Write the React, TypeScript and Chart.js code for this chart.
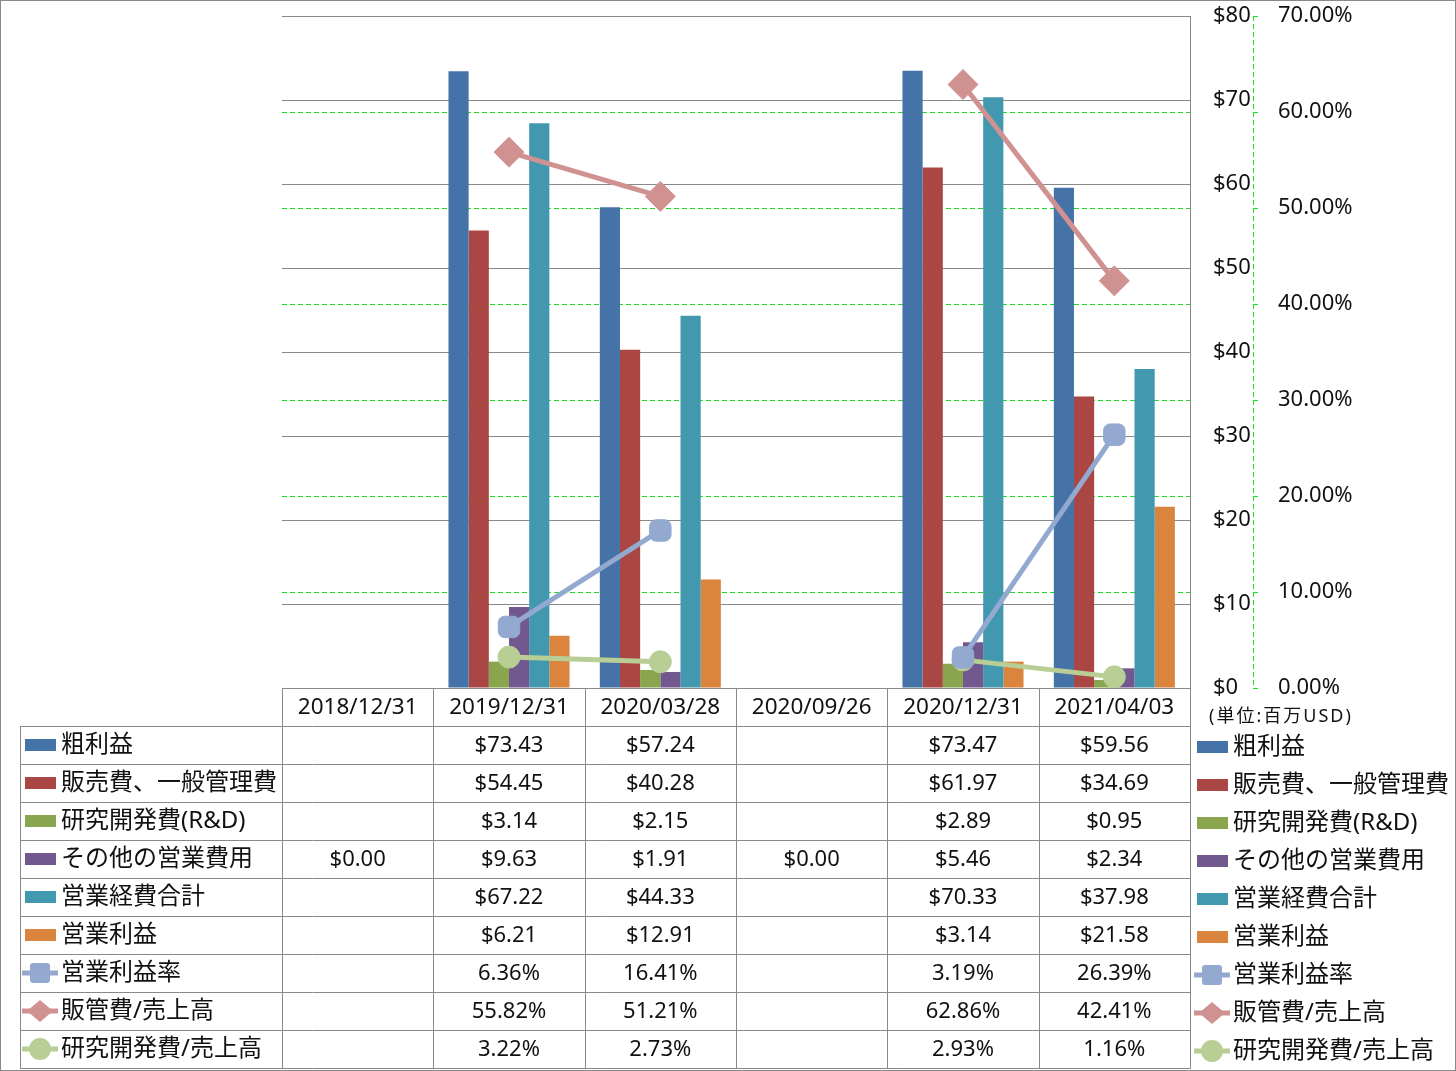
import React, { useEffect, useRef } from 'react';
import { Chart, registerables } from 'chart.js';

Chart.register(...registerables);

const categories = ['2018/12/31', '2019/12/31', '2020/03/28', '2020/09/26', '2020/12/31', '2021/04/03'];
const grossProfit = [null, 73.43, 57.24, null, 73.47, 59.56];
const sgaExpense = [null, 54.45, 40.28, null, 61.97, 34.69];
const rndExpense = [null, 3.14, 2.15, null, 2.89, 0.95];
const otherOpex = [0, 9.63, 1.91, 0, 5.46, 2.34];
const totalOpex = [null, 67.22, 44.33, null, 70.33, 37.98];
const operatingIncome = [null, 6.21, 12.91, null, 3.14, 21.58];
const operatingMargin = [null, 6.36, 16.41, null, 3.19, 26.39];
const sgaRatio = [null, 55.82, 51.21, null, 62.86, 42.41];
const rndRatio = [null, 3.22, 2.73, null, 2.93, 1.16];

const barLabels = ['粗利益', '販売費、一般管理費', '研究開発費(R&D)', 'その他の営業費用', '営業経費合計', '営業利益'];
const barColors = ['#4572A7', '#AA4643', '#89A54E', '#71588F', '#4198AF', '#DB843D'];
const lineLabels = ['営業利益率', '販管費/売上高', '研究開発費/売上高'];
const lineColors = ['#93A9D0', '#D09291', '#B9CE94'];
const lineStyles = ['rectRounded', 'rectRot', 'circle'];
const unitLabel = '(単位:百万USD)';

const FONT = '"Noto Sans", "Noto Sans CJK JP", sans-serif';
const GRID = '#898989';
const TEXT = '#111111';
const PCT_GRID = '#22DD22';

function drawMarker(ctx: CanvasRenderingContext2D, style: string, x: number, y: number, color: string) {
  ctx.save();
  ctx.fillStyle = color;
  ctx.beginPath();
  if (style === 'rectRounded') {
    const s = 10, r = 3;
    ctx.moveTo(x - s + r, y - s);
    ctx.arcTo(x + s, y - s, x + s, y + s, r);
    ctx.arcTo(x + s, y + s, x - s, y + s, r);
    ctx.arcTo(x - s, y + s, x - s, y - s, r);
    ctx.arcTo(x - s, y - s, x + s, y - s, r);
  } else if (style === 'rectRot') {
    ctx.moveTo(x - 13, y);
    ctx.lineTo(x, y - 11);
    ctx.lineTo(x + 13, y);
    ctx.lineTo(x, y + 11);
  } else {
    ctx.arc(x, y, 11, 0, Math.PI * 2);
  }
  ctx.closePath();
  ctx.fill();
  ctx.restore();
}

function drawLegendEntry(ctx: CanvasRenderingContext2D, idx: number, x0: number, y: number, textX: number) {
  if (idx < barLabels.length) {
    ctx.fillStyle = barColors[idx];
    ctx.fillRect(x0 + 3, y - 6, 31, 12);
    ctx.fillStyle = TEXT;
    ctx.fillText(barLabels[idx], textX, y);
  } else {
    const li = idx - barLabels.length;
    ctx.save();
    ctx.strokeStyle = lineColors[li];
    ctx.lineWidth = 5;
    ctx.beginPath();
    ctx.moveTo(x0, y);
    ctx.lineTo(x0 + 36, y);
    ctx.stroke();
    ctx.restore();
    drawMarker(ctx, lineStyles[li], x0 + 18, y, lineColors[li]);
    ctx.fillStyle = TEXT;
    ctx.fillText(lineLabels[li], textX, y);
  }
}

const tablePlugin = {
  id: 'dataTable',
  afterDraw(chart: any) {
    const ctx: CanvasRenderingContext2D = chart.ctx;
    const ca = chart.chartArea;
    const xs = chart.scales.x;
    const y1 = chart.scales.y1;
    const n = categories.length;
    const colW = (ca.right - ca.left) / n;
    const headerH = 38;
    const rowH = 38;
    const datasets = chart.data.datasets;
    const rows = datasets.length;
    const top = ca.bottom;
    const bodyTop = top + headerH;
    const bottom = bodyTop + rows * rowH;
    const leftX = 20;

    ctx.save();
    // dashed percent axis line
    ctx.strokeStyle = PCT_GRID;
    ctx.lineWidth = 1;
    ctx.setLineDash([5, 3]);
    ctx.beginPath();
    const ax = Math.round(y1.left) + 0.5;
    ctx.moveTo(ax, y1.top);
    ctx.lineTo(ax, y1.bottom);
    ctx.stroke();
    ctx.setLineDash([]);

    // table lines
    ctx.strokeStyle = GRID;
    ctx.lineWidth = 1;
    ctx.beginPath();
    for (let r = 0; r <= rows; r++) {
      const yy = Math.round(bodyTop + r * rowH) + 0.5;
      ctx.moveTo(leftX, yy);
      ctx.lineTo(ca.right + 0.5, yy);
    }
    ctx.moveTo(leftX + 0.5, bodyTop);
    ctx.lineTo(leftX + 0.5, bottom + 0.5);
    for (let j = 0; j <= n; j++) {
      const xx = Math.round(ca.left + j * colW) + 0.5;
      ctx.moveTo(xx, top);
      ctx.lineTo(xx, bottom + 0.5);
    }
    ctx.stroke();

    // outer border
    ctx.strokeRect(0.5, 0.5, chart.width - 1, chart.height - 1);

    ctx.textBaseline = 'middle';
    // header
    ctx.font = `22.5px ${FONT}`;
    ctx.fillStyle = TEXT;
    ctx.textAlign = 'center';
    for (let i = 0; i < n; i++) {
      ctx.fillText(categories[i], xs.getPixelForValue(i), top + headerH / 2 + 1);
    }
    // cells
    ctx.font = `22px ${FONT}`;
    for (let r = 0; r < rows; r++) {
      const ds = datasets[r];
      const yy = bodyTop + r * rowH + rowH / 2 + 1;
      for (let i = 0; i < n; i++) {
        const v = ds.data[i];
        if (v === null || v === undefined) continue;
        const txt = ds.type === 'line' ? `${v.toFixed(2)}%` : `$${v.toFixed(2)}`;
        ctx.fillText(txt, xs.getPixelForValue(i), yy);
      }
    }
    // left legend
    ctx.textAlign = 'left';
    ctx.font = `24px ${FONT}`;
    for (let r = 0; r < rows; r++) {
      const yy = bodyTop + r * rowH + rowH / 2;
      drawLegendEntry(ctx, r, 22, yy, 61);
    }
    // right legend
    for (let r = 0; r < rows; r++) {
      const yy = bodyTop + r * rowH + rowH / 2 + 2;
      drawLegendEntry(ctx, r, 1194, yy, 1233);
    }
    // unit label
    ctx.font = `18px ${FONT}`;
    ctx.fillStyle = TEXT;
    (ctx as any).letterSpacing = '2px';
    ctx.fillText(unitLabel, 1209, 717);
    (ctx as any).letterSpacing = '0px';
    ctx.restore();
  },
};

export default function App() {
  const ref = useRef<HTMLCanvasElement | null>(null);

  useEffect(() => {
    document.body.style.margin = '0';
    const canvas = ref.current;
    if (!canvas) return;
    Chart.defaults.font.family = FONT;
    Chart.defaults.color = TEXT;

    const barSeries = [grossProfit, sgaExpense, rndExpense, otherOpex, totalOpex, operatingIncome];
    const lineSeries = [operatingMargin, sgaRatio, rndRatio];

    const datasets: any[] = [
      ...barSeries.map((d, i) => ({
        type: 'bar',
        label: barLabels[i],
        data: d,
        backgroundColor: barColors[i],
        yAxisID: 'y',
        order: 2,
        categoryPercentage: 0.8,
        barPercentage: 1.0,
      })),
      ...lineSeries.map((d, i) => ({
        type: 'line',
        label: lineLabels[i],
        data: d,
        borderColor: lineColors[i],
        backgroundColor: lineColors[i],
        pointBackgroundColor: lineColors[i],
        pointBorderColor: lineColors[i],
        borderWidth: 5,
        pointStyle: lineStyles[i],
        pointRadius: i === 0 ? 12.5 : i === 1 ? 15 : 11,
        pointBorderWidth: 1,
        yAxisID: 'y1',
        order: 1,
        spanGaps: false,
        tension: 0,
      })),
    ];

    const noPad = (s: any, w: number) => {
      s.width = w;
      s.paddingTop = 0;
      s.paddingBottom = 0;
    };

    const chart = new Chart(canvas, {
      type: 'bar',
      data: { labels: categories, datasets },
      options: {
        responsive: false,
        animation: false,
        devicePixelRatio: 1,
        layout: { padding: { left: 282, top: 15, bottom: 383, right: 1456 - 1190 - 63 - 120 } },
        plugins: { legend: { display: false }, tooltip: { enabled: false } },
        scales: {
          x: { type: 'category', display: false, offset: true, grid: { display: false } },
          y: {
            position: 'right',
            min: 0,
            max: 80,
            weight: 0,
            afterFit: (s: any) => noPad(s, 63),
            ticks: {
              stepSize: 10,
              padding: 23,
              color: TEXT,
              font: { size: 22, family: FONT },
              callback: (v: any) => `$${v}`,
            },
            grid: { color: GRID, lineWidth: 1, drawTicks: false, z: 0 },
            border: { display: true, color: GRID, width: 1 },
          },
          y1: {
            position: 'right',
            min: 0,
            max: 70,
            weight: 1,
            afterFit: (s: any) => noPad(s, 120),
            ticks: {
              stepSize: 10,
              padding: 17,
              color: TEXT,
              font: { size: 22, family: FONT },
              callback: (v: any) => `${Number(v).toFixed(2)}%`,
            },
            grid: {
              color: (c: any) => (c.tick && (c.tick.value === 0 || c.tick.value === 70) ? 'rgba(0,0,0,0)' : PCT_GRID),
              lineWidth: 1,
              drawTicks: true,
              tickLength: 8,
              tickBorderDash: [5, 3],
              tickColor: PCT_GRID,
            },
            border: { display: false, dash: [5, 3] },
          },
        },
      },
      plugins: [tablePlugin],
    } as any);

    return () => chart.destroy();
  }, []);

  return <canvas ref={ref} width={1456} height={1071} style={{ display: 'block', width: 1456, height: 1071 }} />;
}
